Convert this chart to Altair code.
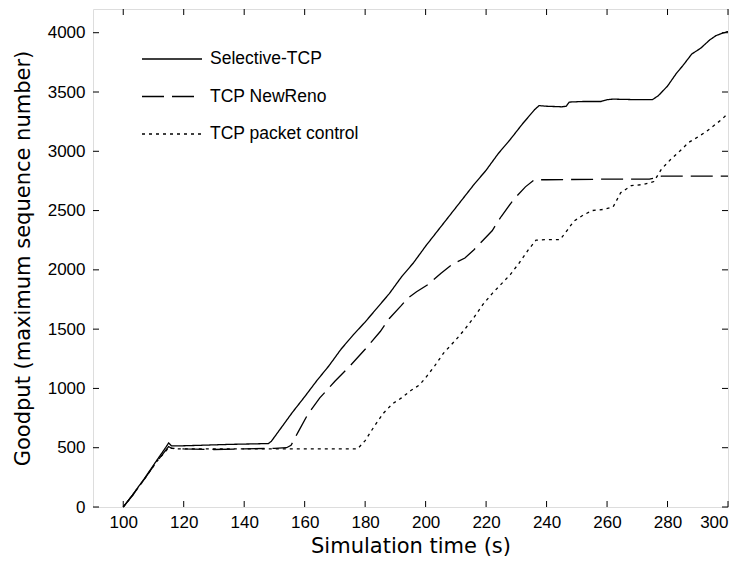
import altair as alt
import pandas as pd

# ---- data ----
sel_t = [100, 103, 107, 111, 114, 115, 116, 118, 125, 135, 148, 149, 152, 156, 160, 164, 168, 172, 176, 180,
         184, 188, 192, 196, 200, 204, 208, 212, 216, 220, 224, 228, 232, 236, 237.5, 240, 245, 246.5, 247.5,
         252, 258, 260, 262, 270, 275, 277, 280, 283, 285, 288, 291, 294, 296, 298, 300]
sel_v = [0, 100, 240, 390, 500, 540, 515, 515, 520, 528, 535, 555, 660, 800, 930, 1065, 1190, 1330, 1450, 1560,
         1680, 1800, 1940, 2060, 2200, 2330, 2460, 2590, 2720, 2840, 2980, 3100, 3230, 3350, 3385, 3380, 3375,
         3380, 3415, 3420, 3420, 3435, 3440, 3435, 3435, 3470, 3550, 3660, 3720, 3820, 3870, 3940, 3975, 3995, 4010]

nr_t = [100, 103, 107, 111, 115, 116, 120, 130, 140, 150, 154, 155.5, 158, 161, 165, 170, 175, 180, 185, 188,
        192, 194, 197, 201, 205, 209, 213, 216, 219, 222, 225, 229, 233, 236, 240, 260, 274, 278, 290, 300]
nr_v = [0, 95, 235, 380, 510, 495, 490, 485, 490, 495, 500, 520, 640, 780, 920, 1060, 1190, 1330, 1480, 1590,
        1700, 1760, 1815, 1880, 1970, 2050, 2100, 2170, 2250, 2330, 2450, 2590, 2700, 2760, 2760, 2765, 2765,
        2790, 2790, 2790]

pc_t = [100, 103, 107, 111, 115, 117, 130, 150, 170, 177.5, 180, 183, 186, 189, 192, 195, 198, 200, 203, 206,
        210, 213, 216, 219, 222, 225, 228, 231, 234, 236.5, 240, 244.5, 247, 249, 252, 255, 259, 262, 264.5,
        268, 272, 275.5, 278, 281, 284, 287, 290, 293, 296, 298, 300]
pc_v = [0, 95, 235, 380, 500, 490, 490, 490, 490, 490, 560, 680, 790, 870, 920, 980, 1030, 1090, 1190, 1300,
        1410, 1500, 1600, 1710, 1800, 1880, 1960, 2060, 2170, 2250, 2255, 2255, 2340, 2410, 2460, 2500, 2510,
        2530, 2650, 2710, 2720, 2745, 2850, 2930, 3000, 3075, 3120, 3170, 3230, 3270, 3320]

series_names = ["Selective-TCP", "TCP NewReno", "TCP packet control"]
x_ticks = [100, 120, 140, 160, 180, 200, 220, 240, 260, 280, 300]
y_ticks = [0, 500, 1000, 1500, 2000, 2500, 3000, 3500, 4000]

rows = []
for name, ts, vs in zip(series_names, [sel_t, nr_t, pc_t], [sel_v, nr_v, pc_v]):
    for t, v in zip(ts, vs):
        rows.append({"series": name, "t": t, "v": v})
df = pd.DataFrame(rows)

W, H = 635, 498
FONT = "Liberation Sans"
TFONT = "DejaVu Sans"
dashes = [[1, 0], [22, 8], [3, 4]]

xscale = alt.Scale(domain=[90, 300], nice=False, zero=False)
yscale = alt.Scale(domain=[0, 4200], nice=False)

lines = alt.Chart(df).mark_line(color="black", strokeWidth=1.3).encode(
    x=alt.X("t:Q", scale=xscale,
            axis=alt.Axis(values=x_ticks, title="Simulation time (s)", grid=False, domain=False,
                          ticks=False, labelPadding=7, labelFontSize=17, labelFont=FONT,
                          labelColor="black", titleFont=TFONT, titleFontSize=21,
                          titleFontWeight="normal", titleColor="black", titlePadding=5)),
    y=alt.Y("v:Q", scale=yscale,
            axis=alt.Axis(values=y_ticks, format="d", title="Goodput (maximum sequence number)", grid=False,
                          domain=False, ticks=False, labelPadding=8, labelFontSize=17, labelFont=FONT,
                          labelColor="black", titleFont=TFONT, titleFontSize=21,
                          titleFontWeight="normal", titleColor="black", titlePadding=14)),
    strokeDash=alt.StrokeDash("series:N", scale=alt.Scale(domain=series_names, range=dashes), legend=None),
    detail="series:N",
)

xt = pd.DataFrame({"t": x_ticks})
yt = pd.DataFrame({"v": y_ticks})
tb = alt.Chart(xt).mark_rule(color="black", strokeWidth=1).encode(
    x=alt.X("t:Q", scale=xscale), y=alt.value(H), y2=alt.value(H - 6))
tt = alt.Chart(xt).mark_rule(color="black", strokeWidth=1).encode(
    x=alt.X("t:Q", scale=xscale), y=alt.value(0), y2=alt.value(6))
tl = alt.Chart(yt).mark_rule(color="black", strokeWidth=1).encode(
    y=alt.Y("v:Q", scale=yscale), x=alt.value(0), x2=alt.value(6))
tr = alt.Chart(yt).mark_rule(color="black", strokeWidth=1).encode(
    y=alt.Y("v:Q", scale=yscale), x=alt.value(W), x2=alt.value(W - 6))

leg_layers = []
dummy = pd.DataFrame({"a": [0]})
for i, name in enumerate(series_names):
    yy = 50 + 37.5 * i
    leg_layers.append(alt.Chart(dummy).mark_rule(color="black", strokeWidth=1.3, strokeDash=dashes[i]).encode(
        x=alt.value(49), x2=alt.value(109), y=alt.value(yy)))
    leg_layers.append(alt.Chart(dummy).mark_text(align="left", baseline="middle", font=FONT, fontSize=17.5,
                                                 color="black").encode(
        x=alt.value(117), y=alt.value(yy), text=alt.value(name)))

chart = alt.layer(lines, tb, tt, tl, tr, *leg_layers).properties(
    width=W, height=H,
    autosize=alt.AutoSizeParams(type="none"),
    padding={"left": 93, "top": 9, "right": 15, "bottom": 56},
).configure_view(stroke="black", strokeWidth=1.3).configure(background="white")

chart.save("out.html", embed_options={"renderer": "svg", "actions": False})
